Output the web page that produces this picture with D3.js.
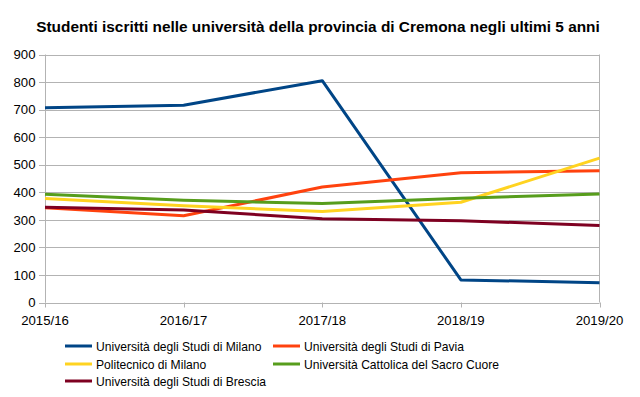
<!DOCTYPE html>
<html><head><meta charset="utf-8">
<script src="https://cdn.jsdelivr.net/npm/d3@7"></script>
<style>body{margin:0;background:#fff}svg{display:block;font-family:"Liberation Sans",Arial,sans-serif}</style>
</head><body><svg id="c" width="640" height="397"></svg>
<script>
const categories = ["2015/16","2016/17","2017/18","2018/19","2019/20"];
const seriesNames = ["Università degli Studi di Milano","Università degli Studi di Pavia","Politecnico di Milano","Università Cattolica del Sacro Cuore","Università degli Studi di Brescia"];
const milano = [707, 716, 805, 82, 72];
const pavia = [344, 315, 419, 471, 478];
const politecnico = [377, 351, 330, 364, 524];
const cattolica = [393, 371, 359, 378, 394];
const brescia = [346, 336, 304, 297, 279];
const yTicks = [0,100,200,300,400,500,600,700,800,900];
const colors = ["#004586","#ff420e","#ffd320","#579d1c","#7e0021"];
const title = "Studenti iscritti nelle università della provincia di Cremona negli ultimi 5 anni";

const series = [milano, pavia, politecnico, cattolica, brescia];
const svg = d3.select("#c");
const L = 45, R = 599.5, T = 54.5, B = 302.5;
const x = d3.scalePoint().domain(categories).range([L, R]);
const y = d3.scaleLinear().domain([0, 900]).range([B, T]);

svg.append("text").attr("x", 318).attr("y", 31.5).attr("text-anchor","middle")
  .attr("font-weight","bold").attr("font-size", 15.4).attr("fill","#000").text(title);

// gridlines
svg.append("g").selectAll("line").data(yTicks).join("line")
  .attr("x1", L - 6).attr("x2", R).attr("y1", d => Math.round(y(d)) + 0.5).attr("y2", d => Math.round(y(d)) + 0.5)
  .attr("stroke", "#b3b3b3").attr("stroke-width", 1);
// vertical axis lines
svg.append("line").attr("x1", L+0.5).attr("x2", L+0.5).attr("y1", T).attr("y2", B).attr("stroke","#b3b3b3");
svg.append("line").attr("x1", R).attr("x2", R).attr("y1", T).attr("y2", B).attr("stroke","#b3b3b3");
// x ticks
svg.append("g").selectAll("line").data(categories).join("line")
  .attr("x1", d => Math.round(x(d))+0.5).attr("x2", d => Math.round(x(d))+0.5).attr("y1", B).attr("y2", B + 5)
  .attr("stroke","#b3b3b3");

// y labels
svg.append("g").selectAll("text").data(yTicks).join("text")
  .attr("x", 35.5).attr("y", d => y(d) + 4.7).attr("text-anchor","end").attr("font-size", 13.2).attr("fill","#000").text(d => d);
// x labels
svg.append("g").selectAll("text").data(categories).join("text")
  .attr("x", d => x(d)).attr("y", 324.5).attr("text-anchor","middle").attr("font-size", 13.2).attr("fill","#000").text(d => d);

const line = d3.line().x((d,i) => x(categories[i])).y(d => y(d));
svg.append("g").selectAll("path").data(series).join("path")
  .attr("d", d => line(d)).attr("fill","none").attr("stroke", (d,i) => colors[i])
  .attr("stroke-width", 3).attr("stroke-linejoin","round");

// legend
const lg = svg.append("g");
const pos = [[65,346],[273,346],[65,364],[273,364],[65,381]];
seriesNames.forEach((n,i) => {
  const [lx, ly] = pos[i];
  lg.append("line").attr("x1", lx).attr("x2", lx + 27).attr("y1", ly).attr("y2", ly)
    .attr("stroke", colors[i]).attr("stroke-width", 3);
  lg.append("text").attr("x", lx + 31).attr("y", ly + 4.5).attr("font-size", 12.1).attr("fill","#000").text(n);
});
</script></body></html>
